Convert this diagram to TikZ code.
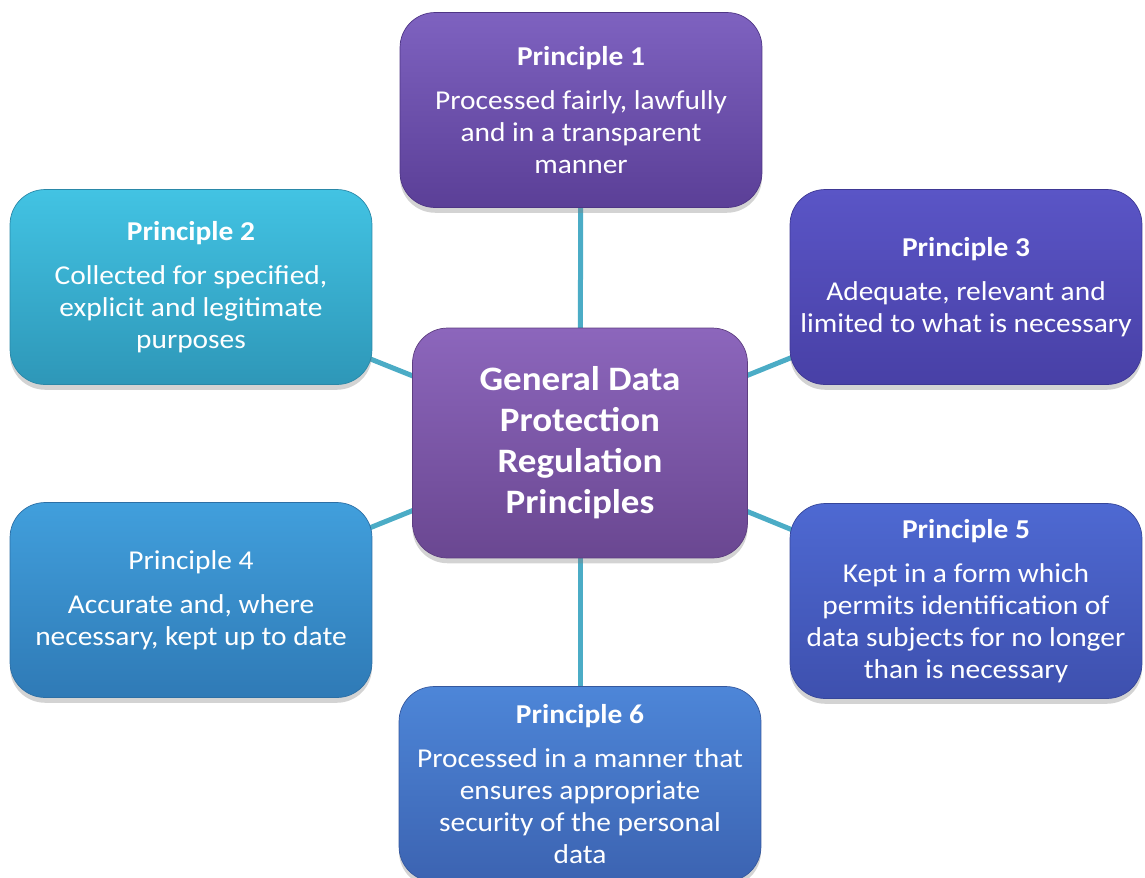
\documentclass[tikz,border=0pt]{standalone}
\usepackage{fontspec}
\setmainfont{Carlito}[FakeStretch=1.08]
\usetikzlibrary{shadows,backgrounds}

\definecolor{lien}{HTML}{4BACC6}

\begin{document}
\begin{tikzpicture}[x=0.02cm, y=-0.02cm]
\tikzset{pnoeud/.style={rounded corners=0.7cm, minimum width=7.24cm, minimum height=3.9cm, text=white, align=center, font=\fontsize{15.5}{18.2}\selectfont, drop shadow={shadow xshift=0pt, shadow yshift=-3pt, opacity=0.35}}}
\tikzset{gnoeud/.style={pnoeud, minimum width=6.7cm, minimum height=4.6cm, font=\fontsize{19.5}{23.3}\selectfont\bfseries}}
\useasboundingbox (0, 0) rectangle (1145, 877);
\clip (0, 0) rectangle (1145, 877);
\node[gnoeud, top color={rgb,255:red,140;green,102;blue,188}, bottom color={rgb,255:red,106;green,71;blue,145}, draw={rgb,255:red,93;green,62;blue,128}] (G) at (580, 443) {General Data\\Protection\\Regulation\\Principles};
\node[pnoeud, top color={rgb,255:red,126;green,98;blue,192}, bottom color={rgb,255:red,91;green,63;blue,151}, draw={rgb,255:red,78;green,53;blue,133}] (P1) at (581, 110) {\textbf{Principle 1}\\[6.8pt]Processed fairly, lawfully\\and in a transparent\\manner};
\node[pnoeud, top color={rgb,255:red,66;green,195;blue,227}, bottom color={rgb,255:red,46;green,151;blue,184}, draw={rgb,255:red,42;green,136;blue,168}] (P2) at (191, 287) {\textbf{Principle 2}\\[6.8pt]Collected for specified,\\explicit and legitimate\\purposes};
\node[pnoeud, minimum width=7.04cm, top color={rgb,255:red,90;green,85;blue,198}, bottom color={rgb,255:red,72;green,64;blue,166}, draw={rgb,255:red,62;green,56;blue,148}] (P3) at (966, 287) {\textbf{Principle 3}\\[6.8pt]Adequate, relevant and\\limited to what is necessary};
\node[pnoeud, top color={rgb,255:red,65;green,159;blue,220}, bottom color={rgb,255:red,47;green,122;blue,182}, draw={rgb,255:red,44;green,111;blue,165}] (P4) at (191, 600) {Principle 4\\[6.8pt]Accurate and, where\\necessary, kept up to date};
\node[pnoeud, minimum width=7.04cm, top color={rgb,255:red,78;green,105;blue,210}, bottom color={rgb,255:red,62;green,80;blue,174}, draw={rgb,255:red,54;green,70;blue,154}] (P5) at (966, 601) {\textbf{Principle 5}\\[6.8pt]Kept in a form which\\permits identification of\\data subjects for no longer\\than is necessary};
\node[pnoeud, top color={rgb,255:red,77;green,134;blue,216}, bottom color={rgb,255:red,60;green,99;blue,177}, draw={rgb,255:red,53;green,88;blue,158}] (P6) at (580, 784) {\textbf{Principle 6}\\[6.8pt]Processed in a manner that\\ensures appropriate\\security of the personal\\data};
\begin{pgfonlayer}{background}
\draw[lien, line width=0.1cm] (G.center) -- (P1.center);
\draw[lien, line width=0.1cm] (G.center) -- (P2.center);
\draw[lien, line width=0.1cm] (G.center) -- (P3.center);
\draw[lien, line width=0.1cm] (G.center) -- (P4.center);
\draw[lien, line width=0.1cm] (G.center) -- (P5.center);
\draw[lien, line width=0.1cm] (G.center) -- (P6.center);
\end{pgfonlayer}
\end{tikzpicture}
\end{document}
